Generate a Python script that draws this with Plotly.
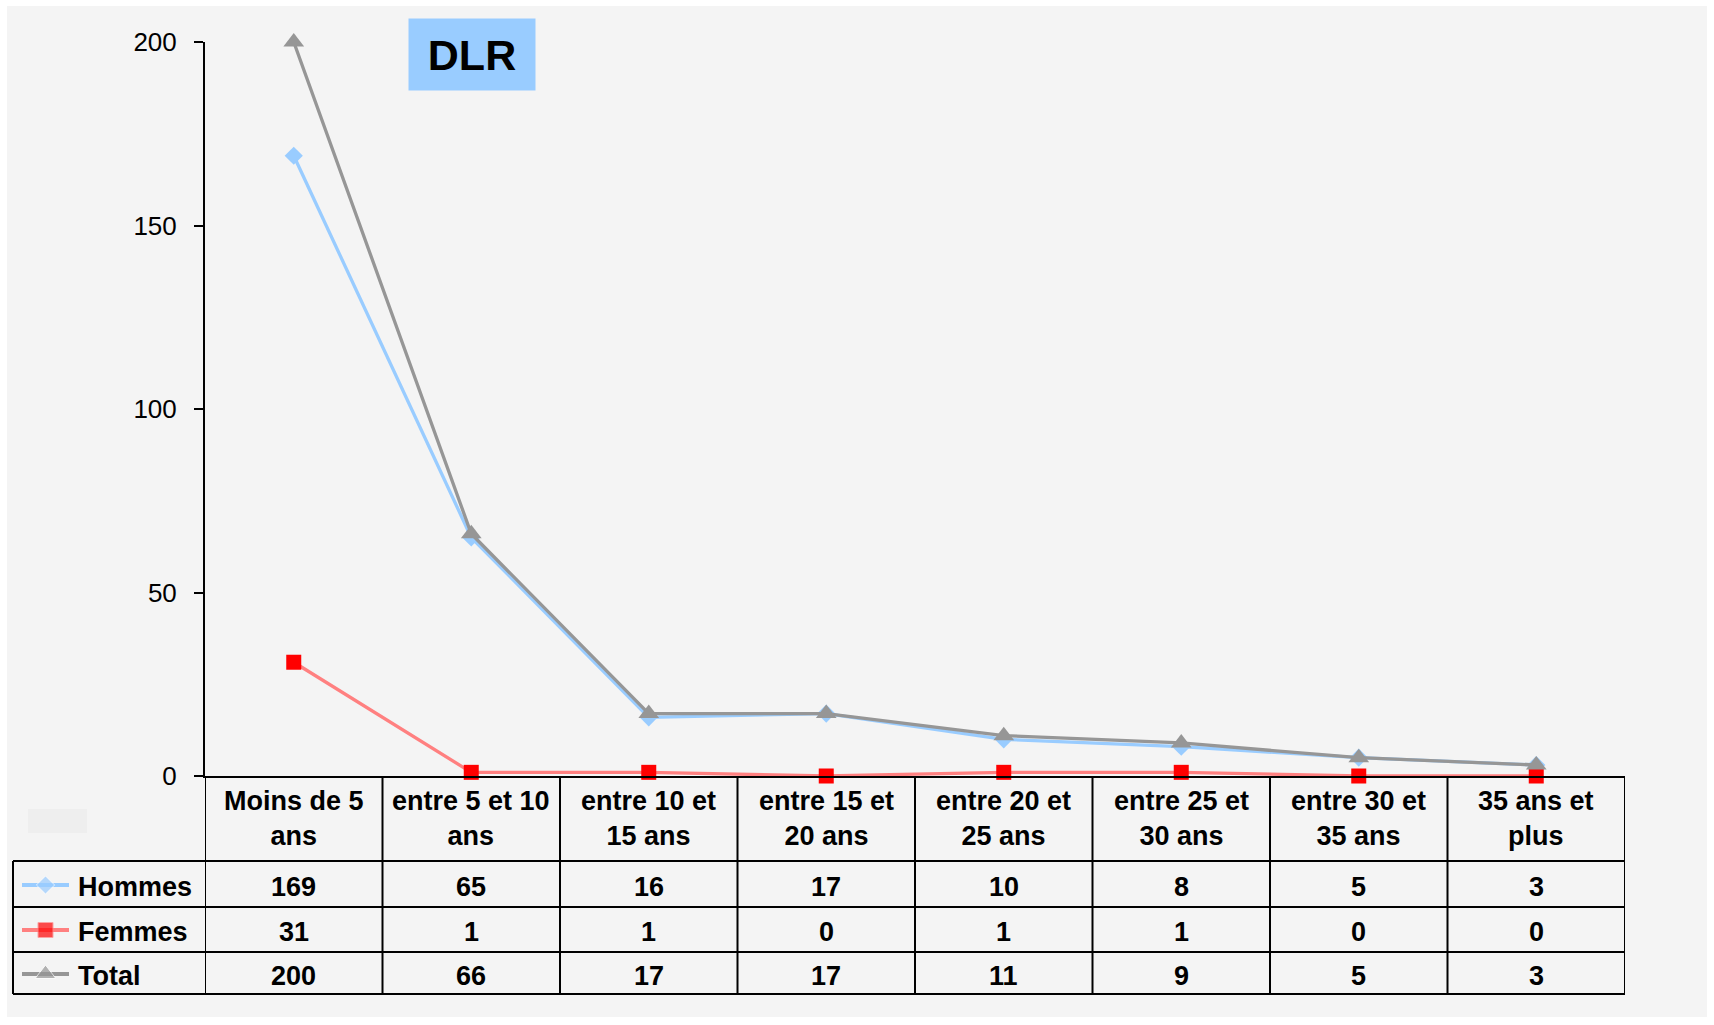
import plotly.graph_objects as go

# ---------------- data ----------------
categories = ["Moins de 5<br>ans", "entre 5 et 10<br>ans", "entre 10 et<br>15 ans",
              "entre 15 et<br>20 ans", "entre 20 et<br>25 ans", "entre 25 et<br>30 ans",
              "entre 30 et<br>35 ans", "35 ans et<br>plus"]
hommes = [169, 65, 16, 17, 10, 8, 5, 3]
femmes = [31, 1, 1, 0, 1, 1, 0, 0]
total = [200, 66, 17, 17, 11, 9, 5, 3]
series_names = ["Hommes", "Femmes", "Total"]
y_ticks = [0, 50, 100, 150, 200]
title_text = "DLR"

# ---------------- geometry helpers ----------------
W, H = 1714, 1025
def px(p):
    return p / W
def py(p):
    return 1 - p / H

X_LEFT, X_RIGHT = 205, 1625
Y_TOP, Y_ZERO = 42, 776
ROW_LINES = [861, 907, 952, 994]
ROW_CENTERS = [887, 932, 976]
TABLE_LEFT = 13

FONT = "Liberation Sans, Arial, sans-serif"
BLUE = "#99ccff"
RED_LINE = "#ff8080"
RED_MARK = "#ff0000"
GRAY = "#969696"

xs = list(range(len(categories)))

fig = go.Figure()
styles = [
    dict(line=dict(color=BLUE, width=3.3), marker=dict(symbol="diamond", size=14, color=BLUE)),
    dict(line=dict(color=RED_LINE, width=3.3), marker=dict(symbol="square", size=15, color=RED_MARK)),
    dict(line=dict(color=GRAY, width=3.3), marker=dict(symbol="triangle-up", size=18, color=GRAY)),
]
for name, vals, st in zip(series_names, [hommes, femmes, total], styles):
    fig.add_trace(go.Scatter(x=xs, y=vals, name=name, mode="lines+markers",
                             line=st["line"], marker=st["marker"], cliponaxis=False,
                             showlegend=False))

# legend keys inside the table (overlay pixel axes)
for i, st in enumerate(styles):
    yc = ROW_CENTERS[i] - 2
    fig.add_trace(go.Scatter(x=[22, 45.5, 69], y=[yc, yc, yc], mode="lines+markers",
                             line=dict(color=st["line"]["color"], width=3.8),
                             marker=dict(symbol=st["marker"]["symbol"], color=st["marker"]["color"],
                                         size=[0, st["marker"]["size"], 0]),
                             xaxis="x2", yaxis="y2", showlegend=False, hoverinfo="skip",
                             cliponaxis=False))

shapes = []
# gray background panel
shapes.append(dict(type="rect", xref="paper", yref="paper", x0=px(7), x1=px(1707),
                   y0=py(6), y1=py(1017), fillcolor="#f4f4f4", line=dict(width=0), layer="below"))
# small faint rectangle
shapes.append(dict(type="rect", xref="paper", yref="paper", x0=px(28), x1=px(87),
                   y0=py(809), y1=py(833), fillcolor="#eeeeee", line=dict(width=0), layer="below"))
# vertical table lines at category boundaries
for i in range(len(categories) + 1):
    shapes.append(dict(type="line", xref="x", yref="paper", x0=i - 0.5, x1=i - 0.5,
                       y0=py(Y_ZERO), y1=py(ROW_LINES[-1]), line=dict(color="black", width=2)))
# left edge of legend column
shapes.append(dict(type="line", xref="paper", yref="paper", x0=px(TABLE_LEFT), x1=px(TABLE_LEFT),
                   y0=py(ROW_LINES[0]), y1=py(ROW_LINES[-1]), line=dict(color="black", width=2)))
# horizontal table lines
for r in ROW_LINES:
    shapes.append(dict(type="line", xref="paper", yref="paper", x0=px(TABLE_LEFT), x1=px(X_RIGHT),
                       y0=py(r), y1=py(r), line=dict(color="black", width=2)))

annotations = []
cell_font = dict(family=FONT, size=27, color="black")
for i, c in enumerate(categories):
    annotations.append(dict(x=i, y=py(818), xref="x", yref="paper", text="<b>%s</b>" % c,
                            showarrow=False, font=cell_font, xanchor="center", yanchor="middle"))
for r, (name, vals) in enumerate(zip(series_names, [hommes, femmes, total])):
    yc = py(ROW_CENTERS[r])
    annotations.append(dict(x=px(76), y=yc, xref="paper", yref="paper", text="<b>%s</b>" % name,
                            showarrow=False, font=cell_font, xanchor="left", yanchor="middle"))
    for i, v in enumerate(vals):
        annotations.append(dict(x=i, y=yc, xref="x", yref="paper", text="<b>%d</b>" % v,
                                showarrow=False, font=cell_font, xanchor="center", yanchor="middle"))
# title box
annotations.append(dict(x=px(472), y=py(54.5), xref="paper", yref="paper",
                        text="<b>%s</b>" % title_text, showarrow=False,
                        font=dict(family=FONT, size=43, color="black"),
                        bgcolor=BLUE, width=126, height=71, borderpad=0,
                        xanchor="center", yanchor="middle"))

fig.update_layout(
    width=W, height=H, autosize=False,
    margin=dict(l=0, r=0, t=0, b=0, pad=0, autoexpand=False),
    paper_bgcolor="white", plot_bgcolor="rgba(0,0,0,0)",
    font=dict(family=FONT, color="black"),
    showlegend=False,
    xaxis=dict(domain=[px(X_LEFT), px(X_RIGHT)], range=[-0.5, len(categories) - 0.5],
               showgrid=False, zeroline=False, showticklabels=False, ticks="",
               showline=True, linecolor="black", linewidth=2, automargin=False),
    yaxis=dict(domain=[py(Y_ZERO), py(Y_TOP)], range=[0, 200], tickvals=y_ticks,
               showgrid=False, zeroline=False, showline=True, linecolor="black", linewidth=2,
               ticks="outside", ticklen=9, tickwidth=2, tickcolor="black", automargin=False,
               tickfont=dict(family=FONT, size=26, color="black"), ticklabelstandoff=12),
    xaxis2=dict(domain=[0, 1], range=[0, W], visible=False, anchor="y2", automargin=False),
    yaxis2=dict(domain=[0, 1], range=[H, 0], visible=False, anchor="x2", automargin=False),
    shapes=shapes, annotations=annotations,
)

fig.write_html("out.html", config={"displayModeBar": False},
               post_script="document.body.style.margin='0';document.body.style.overflow='hidden';")
